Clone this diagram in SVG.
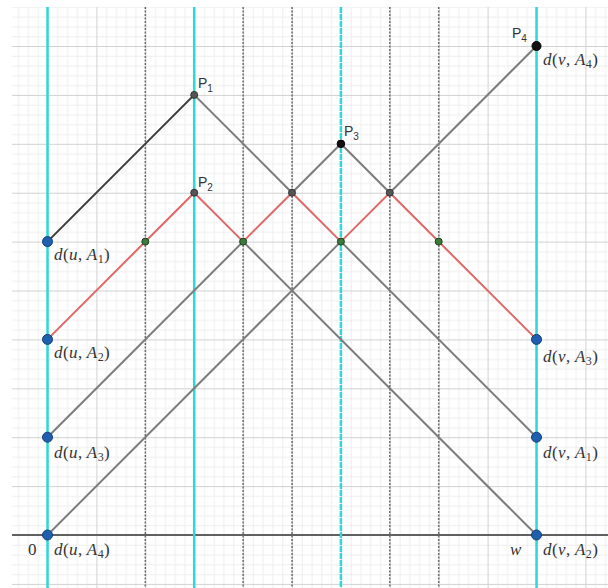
<svg xmlns="http://www.w3.org/2000/svg" width="608" height="588" viewBox="0 0 608 588">
<style>
.cy{stroke:#2ed8d8;stroke-width:2.5;fill:none}
.dot{stroke:#6e6e6e;stroke-width:1.5;stroke-dasharray:2 1.5;fill:none}
.g{stroke:#7c7c7c;stroke-width:2;fill:none;stroke-linecap:round}
.dk{stroke:#3a3a3a;stroke-width:2;fill:none;stroke-linecap:round}
.r{stroke:#e06868;stroke-width:2;fill:none;stroke-linecap:round}
.blue{fill:#1f5fb0;stroke:#163f75;stroke-width:1}
.gray{fill:#555;stroke:#333;stroke-width:1}
.grn{fill:#3a7a3a;stroke:#1f3f1f;stroke-width:1}
.blk{fill:#111;stroke:#000;stroke-width:1}
.lbl{font-family:"Liberation Serif","DejaVu Serif",serif;font-size:17px;fill:#333;font-style:italic;letter-spacing:0.4px}
.n{font-style:normal}
.sub{font-style:normal;font-size:12px}
.pl{font-family:"Liberation Sans","DejaVu Sans",sans-serif;font-size:14px;fill:#333}
.ps{font-size:10px}
</style>
<defs>
<pattern id="grid" x="47.5" y="535" width="48.9" height="48.9" patternUnits="userSpaceOnUse">
<rect width="48.9" height="48.9" fill="#ffffff"/>
<g fill="#efefef">
<rect x="9.78" y="0" width="1" height="48.9"/>
<rect x="19.56" y="0" width="1" height="48.9"/>
<rect x="29.34" y="0" width="1" height="48.9"/>
<rect x="39.12" y="0" width="1" height="48.9"/>
<rect x="0" y="9.78" width="48.9" height="1"/>
<rect x="0" y="19.56" width="48.9" height="1"/>
<rect x="0" y="29.34" width="48.9" height="1"/>
<rect x="0" y="39.12" width="48.9" height="1"/>
</g>
<g fill="#d2d2d2">
<rect x="0" y="0" width="1" height="48.9"/>
<rect x="0" y="0" width="48.9" height="1"/>
</g>
</pattern>
</defs>
<rect width="608" height="588" fill="#ffffff"/>
<rect x="12" y="7" width="596" height="581" fill="url(#grid)"/>
<line x1="12" y1="535" x2="608" y2="535" stroke="#606060" stroke-width="2"/>
<g id="guides">
<line class="dot" x1="145.3" y1="7" x2="145.3" y2="588"/>
<line class="dot" x1="243.1" y1="7" x2="243.1" y2="588"/>
<line class="dot" x1="292" y1="7" x2="292" y2="588"/>
<line class="dot" x1="340.9" y1="7" x2="340.9" y2="588"/>
<line class="dot" x1="389.8" y1="7" x2="389.8" y2="588"/>
<line class="dot" x1="438.7" y1="7" x2="438.7" y2="588"/>
<line class="cy" x1="47.5" y1="7" x2="47.5" y2="588"/>
<line class="cy" x1="194.2" y1="7" x2="194.2" y2="588"/>
<line class="cy" x1="340.9" y1="7" x2="340.9" y2="588" stroke-dasharray="6 1"/>
<line class="cy" x1="536.5" y1="7" x2="536.5" y2="588"/>
</g>
<g id="connectors">
<line class="dk" x1="47.5" y1="241.6" x2="194.2" y2="94.9"/>
<line class="g" x1="194.2" y1="94.9" x2="292" y2="192.7"/>
<line class="g" x1="340.9" y1="241.6" x2="536.5" y2="437.2"/>
<line class="g" x1="243.1" y1="241.6" x2="536.5" y2="535"/>
<line class="g" x1="47.5" y1="437.2" x2="243.1" y2="241.6"/>
<line class="g" x1="292" y1="192.7" x2="340.9" y2="143.8"/>
<line class="g" x1="340.9" y1="143.8" x2="389.8" y2="192.7"/>
<line class="g" x1="47.5" y1="535" x2="340.9" y2="241.6"/>
<line class="g" x1="389.8" y1="192.7" x2="536.5" y2="46"/>
<line class="r" x1="47.5" y1="339.4" x2="194.2" y2="192.7"/>
<line class="r" x1="194.2" y1="192.7" x2="243.1" y2="241.6"/>
<line class="r" x1="243.1" y1="241.6" x2="292" y2="192.7"/>
<line class="r" x1="292" y1="192.7" x2="340.9" y2="241.6"/>
<line class="r" x1="340.9" y1="241.6" x2="389.8" y2="192.7"/>
<line class="r" x1="389.8" y1="192.7" x2="536.5" y2="339.4"/>
</g>
<g id="uA1"><circle class="blue" cx="47.5" cy="241.6" r="5"/><text class="lbl" x="54" y="260">d<tspan class="n">(</tspan>u<tspan class="n">,</tspan> A<tspan class="sub" dy="3">1</tspan><tspan class="n" dy="-3">)</tspan></text></g>
<g id="uA2"><circle class="blue" cx="47.5" cy="339.4" r="5"/><text class="lbl" x="54" y="358">d<tspan class="n">(</tspan>u<tspan class="n">,</tspan> A<tspan class="sub" dy="3">2</tspan><tspan class="n" dy="-3">)</tspan></text></g>
<g id="uA3"><circle class="blue" cx="47.5" cy="437.2" r="5"/><text class="lbl" x="54" y="458">d<tspan class="n">(</tspan>u<tspan class="n">,</tspan> A<tspan class="sub" dy="3">3</tspan><tspan class="n" dy="-3">)</tspan></text></g>
<g id="uA4"><circle class="blue" cx="47.5" cy="535" r="5"/><text class="lbl" x="54" y="555">d<tspan class="n">(</tspan>u<tspan class="n">,</tspan> A<tspan class="sub" dy="3">4</tspan><tspan class="n" dy="-3">)</tspan></text></g>
<g id="vA1"><circle class="blue" cx="536.5" cy="437.2" r="5"/><text class="lbl" x="543" y="458">d<tspan class="n">(</tspan>v<tspan class="n">,</tspan> A<tspan class="sub" dy="3">1</tspan><tspan class="n" dy="-3">)</tspan></text></g>
<g id="vA2"><circle class="blue" cx="536.5" cy="535" r="5"/><text class="lbl" x="543" y="555">d<tspan class="n">(</tspan>v<tspan class="n">,</tspan> A<tspan class="sub" dy="3">2</tspan><tspan class="n" dy="-3">)</tspan></text></g>
<g id="vA3"><circle class="blue" cx="536.5" cy="339.4" r="5"/><text class="lbl" x="543" y="362">d<tspan class="n">(</tspan>v<tspan class="n">,</tspan> A<tspan class="sub" dy="3">3</tspan><tspan class="n" dy="-3">)</tspan></text></g>
<g id="P4"><circle class="blk" cx="536.5" cy="46" r="4.5"/><text class="pl" x="512" y="38">P<tspan class="ps" dy="4">4</tspan></text><text class="lbl" x="543" y="65">d<tspan class="n">(</tspan>v<tspan class="n">,</tspan> A<tspan class="sub" dy="3">4</tspan><tspan class="n" dy="-3">)</tspan></text></g>
<g id="P1"><circle class="gray" cx="194.2" cy="94.9" r="3.5"/><text class="pl" x="198" y="88">P<tspan class="ps" dy="4">1</tspan></text></g>
<g id="P2"><circle class="gray" cx="194.2" cy="192.7" r="3.5"/><text class="pl" x="198" y="187">P<tspan class="ps" dy="4">2</tspan></text></g>
<g id="P3"><circle class="blk" cx="340.9" cy="143.8" r="3.8"/><text class="pl" x="344" y="136">P<tspan class="ps" dy="4">3</tspan></text></g>
<g id="X57"><circle class="gray" cx="292" cy="192.7" r="3.5"/></g>
<g id="X77"><circle class="gray" cx="389.8" cy="192.7" r="3.5"/></g>
<g id="X26"><circle class="grn" cx="145.3" cy="241.6" r="3.5"/></g>
<g id="X46"><circle class="grn" cx="243.1" cy="241.6" r="3.5"/></g>
<g id="X66"><circle class="grn" cx="340.9" cy="241.6" r="3.5"/></g>
<g id="X86"><circle class="grn" cx="438.7" cy="241.6" r="3.5"/></g>
<text class="lbl" x="28" y="555" style="font-style:normal">0</text>
<text class="lbl" x="510" y="555">w</text>
</svg>
